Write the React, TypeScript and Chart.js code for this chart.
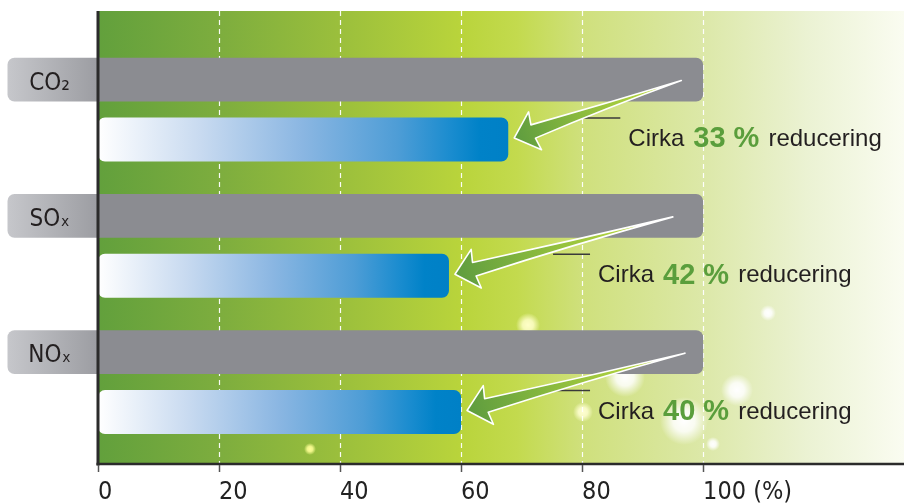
import React, { useEffect, useRef } from 'react';
import { Chart, registerables } from 'chart.js';

Chart.register(...registerables);

// ---- data ----
const categories = ['CO₂', 'SOₓ', 'NOₓ'];
const beforeValues = [100, 100, 100];
const afterValues = [67.8, 58, 60];
const reductionLabels = ['33 %', '42 %', '40 %'];
const xTickValues = [0, 20, 40, 60, 80, 100];
const xTickLabels = ['0', '20', '40', '60', '80', '100 (%)'];
// annotation anchors (in axis units)
const arrowTailValues = [96.4, 95, 97];
const noteStartValues = [80.2, 75.2, 75.2];

const NARROW = "'Liberation Sans Narrow', 'DejaVu Sans Condensed', 'Liberation Sans', sans-serif";
const SANS = "'Liberation Sans', Arial, sans-serif";

const BG_TOP = 11;
const BG_BOTTOM = 464;

function drawArrow(ctx: CanvasRenderingContext2D, tx: number, ty: number, px: number, py: number) {
  const dx = px - tx;
  const dy = py - ty;
  const len = Math.hypot(dx, dy);
  const ux = dx / len;
  const uy = dy / len;
  const nx = -uy;
  const ny = ux;
  const headLen = 20;
  const headW = 20;
  const shaftW = 7;
  const bx = px - ux * headLen;
  const by = py - uy * headLen;
  const mx = (tx + bx) / 2;
  const my = (ty + by) / 2;
  const g = ctx.createLinearGradient(tx, ty, px, py);
  g.addColorStop(0, '#c9e03e');
  g.addColorStop(0.45, '#9cc63e');
  g.addColorStop(1, '#5e9c3f');
  ctx.save();
  ctx.beginPath();
  ctx.moveTo(tx, ty);
  ctx.quadraticCurveTo(mx + nx * 2.5, my + ny * 2.5, bx + nx * shaftW, by + ny * shaftW);
  ctx.lineTo(bx + nx * headW - ux * 2, by + ny * headW - uy * 2);
  ctx.lineTo(px, py);
  ctx.lineTo(bx - nx * headW - ux * 2, by - ny * headW - uy * 2);
  ctx.lineTo(bx - nx * shaftW, by - ny * shaftW);
  ctx.quadraticCurveTo(mx - nx * 1.5, my - ny * 1.5, tx, ty);
  ctx.closePath();
  ctx.fillStyle = g;
  ctx.fill();
  ctx.lineJoin = 'round';
  ctx.lineWidth = 1.6;
  ctx.strokeStyle = '#ffffff';
  ctx.stroke();
  ctx.restore();
}

const decorPlugin = {
  id: 'decor',
  beforeDraw(chart: any) {
    const { ctx, chartArea, scales } = chart;
    const xs = scales.x;
    const left = chartArea.left;
    const right = chart.width;
    ctx.save();
    const bg = ctx.createLinearGradient(left, 0, right, 0);
    bg.addColorStop(0, '#62a03c');
    bg.addColorStop(0.15, '#7dad3e');
    bg.addColorStop(0.3, '#9bbf3c');
    bg.addColorStop(0.45, '#b9d43b');
    bg.addColorStop(0.52, '#c3da4e');
    bg.addColorStop(0.6, '#cfe07c');
    bg.addColorStop(0.75, '#dce8a8');
    bg.addColorStop(0.88, '#ebf2d3');
    bg.addColorStop(1, '#fafcf1');
    ctx.fillStyle = bg;
    ctx.fillRect(left, BG_TOP, right - left, BG_BOTTOM - BG_TOP);
    ctx.beginPath();
    ctx.rect(left, BG_TOP, right - left, BG_BOTTOM - BG_TOP);
    ctx.clip();
    // soft light spots (decoration)
    const spots: [number, number, number, string][] = [
      [528, 325, 12, '255,255,200'],
      [625, 377, 20, '255,255,255'],
      [684, 421, 24, '255,255,255'],
      [737, 390, 16, '255,255,255'],
      [768, 313, 8, '255,255,255'],
      [713, 444, 7, '255,255,255'],
      [583, 412, 10, '255,255,210'],
      [310, 449, 6, '255,255,150'],
    ];
    spots.forEach(([x, y, r, c]) => {
      const rg = ctx.createRadialGradient(x, y, 0, x, y, r);
      rg.addColorStop(0, `rgba(${c},1)`);
      rg.addColorStop(0.45, `rgba(${c},0.85)`);
      rg.addColorStop(1, `rgba(${c},0)`);
      ctx.fillStyle = rg;
      ctx.beginPath();
      ctx.arc(x, y, r, 0, Math.PI * 2);
      ctx.fill();
    });
    ctx.restore();

    // dashed grid lines
    ctx.save();
    ctx.strokeStyle = 'rgba(255,255,255,0.95)';
    ctx.lineWidth = 1.2;
    ctx.setLineDash([5, 4]);
    xTickValues.forEach((v) => {
      if (v === 0) return;
      const x = Math.round(xs.getPixelForValue(v)) + 0.5;
      ctx.beginPath();
      ctx.moveTo(x, BG_TOP);
      ctx.lineTo(x, BG_BOTTOM);
      ctx.stroke();
    });
    ctx.restore();

    // category tabs
    const meta = chart.getDatasetMeta(0);
    ctx.save();
    meta.data.forEach((el: any) => {
      const { y, height } = el.getProps(['y', 'height'], true);
      const g = ctx.createLinearGradient(7.5, 0, left, 0);
      g.addColorStop(0, '#c6c7cb');
      g.addColorStop(1, '#9c9da2');
      ctx.fillStyle = g;
      ctx.beginPath();
      ctx.roundRect(7.5, y - height / 2, left + 2 - 7.5, height, [7, 0, 0, 7]);
      ctx.fill();
    });
    ctx.restore();
  },
  afterDatasetsDraw(chart: any) {
    const { ctx, chartArea, scales } = chart;
    const xs = scales.x;
    const left = chartArea.left;
    const right = chart.width;
    ctx.save();
    // axis lines
    ctx.strokeStyle = '#2b2b2b';
    ctx.lineWidth = 3;
    ctx.beginPath();
    ctx.moveTo(left, BG_TOP);
    ctx.lineTo(left, BG_BOTTOM + 1.5);
    ctx.stroke();
    ctx.lineWidth = 2.5;
    ctx.beginPath();
    ctx.moveTo(left - 1.5, BG_BOTTOM);
    ctx.lineTo(right, BG_BOTTOM);
    ctx.stroke();
    ctx.lineWidth = 1.5;
    ctx.strokeStyle = '#555';
    xTickValues.forEach((v) => {
      const x = Math.round(xs.getPixelForValue(v)) + 0.5;
      ctx.beginPath();
      ctx.moveTo(x, BG_BOTTOM + 1);
      ctx.lineTo(x, BG_BOTTOM + 8);
      ctx.stroke();
    });

    const greyMeta = chart.getDatasetMeta(0);
    const blueMeta = chart.getDatasetMeta(1);
    categories.forEach((_, i) => {
      const grey = greyMeta.data[i].getProps(['y', 'height'], true);
      const blue = blueMeta.data[i].getProps(['x', 'y', 'height'], true);
      // leader line
      const lx = xs.getPixelForValue(noteStartValues[i]);
      const ly = blue.y - blue.height / 2 + 0.5;
      ctx.strokeStyle = '#3a3a3a';
      ctx.lineWidth = 1.5;
      ctx.beginPath();
      ctx.moveTo(lx, ly);
      ctx.lineTo(lx + 37, ly);
      ctx.stroke();
      // arrow
      drawArrow(ctx, xs.getPixelForValue(arrowTailValues[i]), grey.y + 1, blue.x + 6, blue.y - 1.5);
      // note text
      let tx = lx + 45;
      const ty = blue.y;
      ctx.textBaseline = 'middle';
      ctx.textAlign = 'left';
      ctx.fillStyle = '#231f20';
      ctx.font = `24px ${SANS}`;
      ctx.fillText('Cirka', tx, ty);
      tx += ctx.measureText('Cirka').width + 9;
      ctx.fillStyle = '#5a9e3c';
      ctx.font = `bold 29px ${SANS}`;
      ctx.fillText(reductionLabels[i], tx, ty);
      tx += ctx.measureText(reductionLabels[i]).width + 9;
      ctx.fillStyle = '#231f20';
      ctx.font = `24px ${SANS}`;
      ctx.fillText('reducering', tx, ty);
    });
    ctx.restore();
  },
};

export default function App() {
  const ref = useRef<HTMLCanvasElement>(null);
  useEffect(() => {
    document.body.style.margin = '0';
    const canvas = ref.current;
    if (!canvas) return;
    const chart = new Chart(canvas, {
      type: 'bar',
      data: {
        labels: categories,
        datasets: [
          {
            label: 'Före',
            data: beforeValues,
            backgroundColor: '#8b8c91',
            borderRadius: { topLeft: 0, bottomLeft: 0, topRight: 7, bottomRight: 7 },
            borderSkipped: false,
            categoryPercentage: 0.879,
            barPercentage: 0.733,
          },
          {
            label: 'Efter',
            data: afterValues,
            backgroundColor: (c: any) => {
              const ch = c.chart;
              const xs = ch.scales?.x;
              if (!ch.chartArea || !xs) return '#0083c8';
              const v = typeof c.raw === 'number' ? c.raw : afterValues[c.dataIndex];
              const x0 = xs.getPixelForValue(0);
              const x1 = xs.getPixelForValue(v);
              const g = ch.ctx.createLinearGradient(x0, 0, x1, 0);
              g.addColorStop(0, '#ffffff');
              g.addColorStop(0.25, '#c8daf0');
              g.addColorStop(0.5, '#8ab6e2');
              g.addColorStop(0.73, '#4e9dd6');
              g.addColorStop(0.86, '#1a8ccf');
              g.addColorStop(0.93, '#0082c8');
              g.addColorStop(1, '#0080c6');
              return g;
            },
            borderRadius: 7,
            borderSkipped: false,
            categoryPercentage: 0.879,
            barPercentage: 0.733,
          },
        ],
      },
      options: {
        indexAxis: 'y',
        animation: false,
        responsive: true,
        maintainAspectRatio: false,
        layout: { padding: { top: 40.75, right: 0, left: 0, bottom: 0 } },
        plugins: {
          legend: { display: false },
          tooltip: { enabled: false },
        },
        scales: {
          x: {
            type: 'linear',
            min: 0,
            max: 133.2,
            afterBuildTicks: (s: any) => {
              s.ticks = xTickValues.map((v) => ({ value: v }));
            },
            afterFit: (s: any) => {
              s.height = 52.75;
            },
            grid: { display: false, drawTicks: false },
            border: { display: false },
            ticks: {
              autoSkip: false,
              maxRotation: 0,
              align: 'start',
              padding: 27,
              color: '#222222',
              font: { family: NARROW, size: 25 },
              callback: (v: any) => {
                const idx = xTickValues.indexOf(Number(v));
                return idx >= 0 ? xTickLabels[idx] : '';
              },
            },
          },
          y: {
            type: 'category',
            offset: true,
            afterFit: (s: any) => {
              s.width = 98;
            },
            grid: { display: false, drawTicks: false },
            border: { display: false },
            ticks: {
              crossAlign: 'center',
              padding: 27,
              labelOffset: -26,
              color: '#231f20',
              font: { family: NARROW, size: 24 },
            },
          },
        },
      },
      plugins: [decorPlugin],
    } as any);
    return () => chart.destroy();
  }, []);
  return (
    <div style={{ position: 'relative', width: 904, height: 503 }}>
      <canvas ref={ref} />
    </div>
  );
}
